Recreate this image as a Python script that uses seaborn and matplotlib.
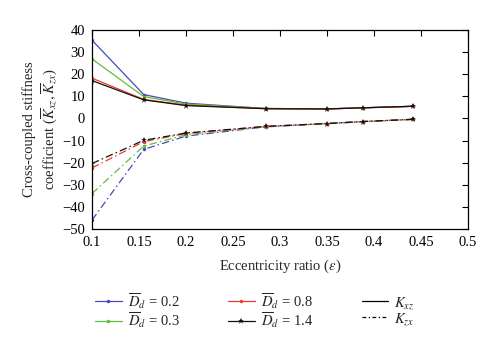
import matplotlib
matplotlib.use("Agg")
import matplotlib.pyplot as plt
import seaborn as sns
import pandas as pd
from matplotlib.lines import Line2D

# Data
ecc = [0.1, 0.155, 0.2, 0.285, 0.35, 0.388, 0.442]
dd_labels = ["0.2", "0.3", "0.8", "1.4"]
kxz_02 = [35.4, 10.8, 6.9, 4.5, 4.3, 4.8, 5.5]
kxz_03 = [26.9, 9.9, 6.5, 4.5, 4.3, 4.8, 5.5]
kxz_08 = [18.2, 8.6, 6.0, 4.4, 4.3, 4.8, 5.5]
kxz_14 = [17.1, 8.4, 5.8, 4.4, 4.3, 4.8, 5.5]
kzx_02 = [-46.0, -14.0, -8.0, -3.8, -2.4, -1.5, -0.4]
kzx_03 = [-34.0, -12.5, -7.4, -3.7, -2.3, -1.4, -0.4]
kzx_08 = [-22.4, -10.5, -6.8, -3.6, -2.3, -1.4, -0.4]
kzx_14 = [-20.4, -9.9, -6.6, -3.6, -2.3, -1.4, -0.4]

sns.set_theme(style="white")
plt.rcParams["font.family"] = ["Liberation Serif", "DejaVu Serif"]
plt.rcParams["mathtext.fontset"] = "stix"

colors = ["#4a48b8", "#5fbf3a", "#ee3a2c", "#111111"]
markers = ["o", "o", "o", "*"]
msizes = [2.5, 2.5, 2.5, 5]

fig = plt.figure(figsize=(5.0, 3.49), dpi=100)
ax = fig.add_axes([0.184, 0.344, 0.752, 0.570])

kxz = [kxz_02, kxz_03, kxz_08, kxz_14]
kzx = [kzx_02, kzx_03, kzx_08, kzx_14]
dashdot = (0, (6, 2.5, 1.2, 2.5))
for i in range(4):
    df1 = pd.DataFrame({"e": ecc, "k": kxz[i]})
    sns.lineplot(data=df1, x="e", y="k", ax=ax, color=colors[i], marker=markers[i],
                 markersize=msizes[i], markeredgewidth=0, linewidth=0.9)
    df2 = pd.DataFrame({"e": ecc, "k": kzx[i]})
    sns.lineplot(data=df2, x="e", y="k", ax=ax, color=colors[i], marker=markers[i],
                 markersize=msizes[i], markeredgewidth=0, linewidth=0.9, linestyle=dashdot)

ax.set_xlim(0.1, 0.5)
ax.set_ylim(-50, 40)
ax.set_xticks([0.1, 0.15, 0.2, 0.25, 0.3, 0.35, 0.4, 0.45, 0.5])
ax.set_xticklabels(["0.1", "0.15", "0.2", "0.25", "0.3", "0.35", "0.4", "0.45", "0.5"])
ax.set_yticks(range(-50, 41, 10))
ax.tick_params(direction="in", top=True, right=True, length=4, width=0.8,
               labelsize=10.5, colors="black", pad=5)
for s in ax.spines.values():
    s.set_color("black")
    s.set_linewidth(0.9)
ax.set_xlabel(r"Eccentricity ratio ($\varepsilon$)", fontsize=10.5, labelpad=6)
ax.set_ylabel("Cross-coupled stiffness\ncoefficient " + r"($\overline{K}_{xz}, \overline{K}_{zx}$)",
              fontsize=10.5, labelpad=2)

handles = []
for i in range(4):
    handles.append(Line2D([], [], color=colors[i], marker=markers[i], markersize=msizes[i],
                          markeredgewidth=0, linewidth=0.9,
                          label=r"$\overline{D}_d$ = " + dd_labels[i]))
handles.append(Line2D([], [], color="black", linewidth=0.9, label=r"$K_{xz}$"))
handles.append(Line2D([], [], color="black", linewidth=0.9, linestyle=(0, (3, 2, 1, 2)), label=r"$K_{zx}$"))
fig.legend(handles=handles, ncol=3, loc="center", bbox_to_anchor=(0.51, 0.11),
           frameon=False, fontsize=10.5, handlelength=1.8, columnspacing=3.3,
           labelspacing=0.0, handletextpad=0.45)

fig.savefig("out.png", dpi=100)
